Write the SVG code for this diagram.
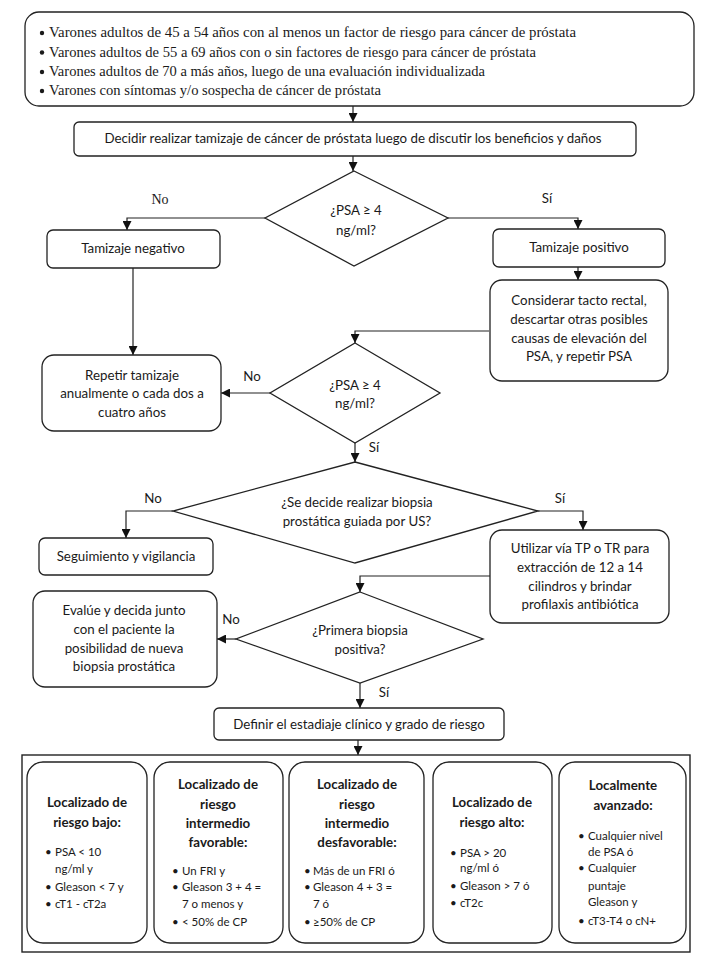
<svg xmlns="http://www.w3.org/2000/svg" width="709" height="968" viewBox="0 0 709 968">
<defs>
<marker id="arr" markerUnits="userSpaceOnUse" markerWidth="9" markerHeight="9" refX="9" refY="4.5" orient="auto">
<path d="M0,0 L9,4.5 L0,9 z" fill="#111"/>
</marker>
<style>
.box{fill:#fff;stroke:#222;stroke-width:1.3}
.t{font-family:Lato,"Liberation Sans",sans-serif;font-size:13.3px;fill:#1a1a1a;text-anchor:middle}
.s{font-family:"Liberation Serif","Times New Roman",serif;font-size:14px;fill:#1a1a1a}
.h{font-family:Lato,"Liberation Sans",sans-serif;font-size:13.3px;font-weight:bold;fill:#1a1a1a;text-anchor:middle}
.b{font-family:Lato,"Liberation Sans",sans-serif;font-size:11.5px;fill:#1a1a1a}
.c{fill:none;stroke:#222;stroke-width:1.2;marker-end:url(#arr)}
</style>
</defs>
<rect width="709" height="968" fill="#fff"/>

<g id="connectors">
<path class="c" d="M353,106 V122"/>
<path class="c" d="M353,156 V171"/>
<path class="c" d="M265,218 H127 V230"/>
<path class="c" d="M448,218 H578 V229"/>
<path class="c" d="M578,267 V280"/>
<path class="c" d="M133,268 V355"/>
<path class="c" d="M489,331 H355 V343"/>
<path class="c" d="M270,393 H221"/>
<path class="c" d="M355,443 V462"/>
<path class="c" d="M173,511 H126 V538"/>
<path class="c" d="M538,511 H583 V530"/>
<path class="c" d="M490,576 H360 V592"/>
<path class="c" d="M236,639 H217"/>
<path class="c" d="M360,683 V708"/>
<path class="c" d="M358,740 V755"/>
</g>

<g id="n-criteria">
<rect class="box" x="25" y="12" width="669" height="94" rx="14"/>
<circle cx="42" cy="33" r="2.2" fill="#1a1a1a"/>
<circle cx="42" cy="52.5" r="2.2" fill="#1a1a1a"/>
<circle cx="42" cy="72" r="2.2" fill="#1a1a1a"/>
<circle cx="42" cy="91" r="2.2" fill="#1a1a1a"/>
<text class="s" x="49" y="37" textLength="527" lengthAdjust="spacingAndGlyphs">Varones adultos de 45 a 54 años con al menos un factor de riesgo para cáncer de próstata</text>
<text class="s" x="49" y="56.5" textLength="487" lengthAdjust="spacingAndGlyphs">Varones adultos de 55 a 69 años con o sin factores de riesgo para cáncer de próstata</text>
<text class="s" x="49" y="76" textLength="436" lengthAdjust="spacingAndGlyphs">Varones adultos de 70 a más años, luego de una evaluación individualizada</text>
<text class="s" x="49" y="95" textLength="332" lengthAdjust="spacingAndGlyphs">Varones con síntomas y/o sospecha de cáncer de próstata</text>
</g>

<g id="n-decidir">
<rect class="box" x="74" y="122" width="562" height="34" rx="5"/>
<text class="t" x="353" y="143">Decidir realizar tamizaje de cáncer de próstata luego de discutir los beneficios y daños</text>
</g>

<g id="d-psa1">
<polygon class="box" points="354,171 448,218 354,266 265,218"/>
<text class="t" x="356" y="215">¿PSA ≥ 4</text>
<text class="t" x="356" y="235">ng/ml?</text>
<text class="s" x="160" y="204" text-anchor="middle">No</text>
<text class="t" x="547" y="203">Sí</text>
</g>

<g id="n-negativo">
<rect class="box" x="47" y="230" width="173" height="38" rx="6"/>
<text class="t" x="133" y="253">Tamizaje negativo</text>
</g>

<g id="n-positivo">
<rect class="box" x="493" y="229" width="172" height="38" rx="6"/>
<text class="t" x="579" y="252">Tamizaje positivo</text>
</g>

<g id="n-considerar">
<rect class="box" x="490" y="280" width="178" height="101" rx="12"/>
<text class="t" x="579" y="305">Considerar tacto rectal,</text>
<text class="t" x="579" y="324">descartar otras posibles</text>
<text class="t" x="579" y="343">causas de elevación del</text>
<text class="t" x="579" y="361">PSA, y repetir PSA</text>
</g>

<g id="d-psa2">
<polygon class="box" points="355,343 440,393 355,443 270,393"/>
<text class="t" x="355" y="390">¿PSA ≥ 4</text>
<text class="t" x="355" y="408">ng/ml?</text>
<text class="t" x="252" y="381">No</text>
<text class="t" x="374" y="452">Sí</text>
</g>

<g id="n-repetir">
<rect class="box" x="42" y="355" width="179" height="76" rx="12"/>
<text class="t" x="132" y="380">Repetir tamizaje</text>
<text class="t" x="132" y="398">anualmente o cada dos a</text>
<text class="t" x="132" y="417">cuatro años</text>
</g>

<g id="d-biopsia">
<polygon class="box" points="355,462 538,511 355,563 173,511"/>
<text class="t" x="357" y="507">¿Se decide realizar biopsia</text>
<text class="t" x="357" y="526">prostática guiada por US?</text>
<text class="t" x="153" y="503">No</text>
<text class="t" x="560" y="503">Sí</text>
</g>

<g id="n-seguimiento">
<rect class="box" x="39" y="538" width="174" height="37" rx="6"/>
<text class="t" x="126" y="561">Seguimiento y vigilancia</text>
</g>

<g id="n-utilizar">
<rect class="box" x="490" y="530" width="179" height="93" rx="12"/>
<text class="t" x="580" y="553">Utilizar vía TP o TR para</text>
<text class="t" x="580" y="572">extracción de 12 a 14</text>
<text class="t" x="580" y="591">cilindros y brindar</text>
<text class="t" x="580" y="609">profilaxis antibiótica</text>
</g>

<g id="d-primera">
<polygon class="box" points="360,592 483,639 360,683 236,639"/>
<text class="t" x="360" y="635">¿Primera biopsia</text>
<text class="t" x="360" y="654">positiva?</text>
<text class="t" x="231" y="624">No</text>
<text class="t" x="384" y="697">Sí</text>
</g>

<g id="n-evalue">
<rect class="box" x="33" y="591" width="184" height="96" rx="12"/>
<text class="t" x="124" y="615">Evalúe y decida junto</text>
<text class="t" x="124" y="634">con el paciente la</text>
<text class="t" x="124" y="653">posibilidad de nueva</text>
<text class="t" x="124" y="671">biopsia prostática</text>
</g>

<g id="n-definir">
<rect class="box" x="214" y="708" width="290" height="32" rx="5"/>
<text class="t" x="359" y="729">Definir el estadiaje clínico y grado de riesgo</text>
</g>

<g id="n-estadios">
<rect x="22" y="755" width="668" height="197" fill="#fff" stroke="#222" stroke-width="1.4"/>
</g>

<g id="n-bajo">
<rect class="box" x="27" y="762" width="120" height="181" rx="16"/>
<text class="h" x="87" y="807">Localizado de</text>
<text class="h" x="87" y="827">riesgo bajo:</text>
<g class="b">
<text x="45" y="856">•</text><text x="55" y="856">PSA &lt; 10</text>
<text x="55" y="873">ng/ml y</text>
<text x="45" y="891">•</text><text x="55" y="891">Gleason &lt; 7 y</text>
<text x="45" y="908">•</text><text x="55" y="908">cT1 - cT2a</text>
</g>
</g>

<g id="n-favorable">
<rect class="box" x="154" y="762" width="129" height="181" rx="16"/>
<text class="h" x="218" y="789">Localizado de</text>
<text class="h" x="218" y="809">riesgo</text>
<text class="h" x="218" y="828">intermedio</text>
<text class="h" x="218" y="847">favorable:</text>
<g class="b">
<text x="172" y="875">•</text><text x="182" y="875">Un FRI y</text>
<text x="172" y="891">•</text><text x="182" y="891">Gleason 3 + 4 =</text>
<text x="182" y="908">7 o menos y</text>
<text x="172" y="926">•</text><text x="182" y="926">&lt; 50% de CP</text>
</g>
</g>

<g id="n-desfavorable">
<rect class="box" x="289" y="762" width="135" height="181" rx="16"/>
<text class="h" x="357" y="789">Localizado de</text>
<text class="h" x="357" y="809">riesgo</text>
<text class="h" x="357" y="828">intermedio</text>
<text class="h" x="357" y="847">desfavorable:</text>
<g class="b">
<text x="304" y="875">•</text><text x="313" y="875">Más de un FRI ó</text>
<text x="304" y="891">•</text><text x="313" y="891">Gleason 4 + 3 =</text>
<text x="313" y="908">7 ó</text>
<text x="304" y="926">•</text><text x="313" y="926">≥50% de CP</text>
</g>
</g>

<g id="n-alto">
<rect class="box" x="433" y="762" width="119" height="181" rx="16"/>
<text class="h" x="492" y="807">Localizado de</text>
<text class="h" x="492" y="827">riesgo alto:</text>
<g class="b">
<text x="450" y="857">•</text><text x="460" y="857">PSA &gt; 20</text>
<text x="460" y="872">ng/ml ó</text>
<text x="450" y="890">•</text><text x="460" y="890">Gleason &gt; 7 ó</text>
<text x="450" y="907">•</text><text x="460" y="907">cT2c</text>
</g>
</g>

<g id="n-avanzado">
<rect class="box" x="559" y="762" width="127" height="181" rx="16"/>
<text class="h" x="623" y="790">Localmente</text>
<text class="h" x="623" y="810">avanzado:</text>
<g class="b">
<text x="578" y="840">•</text><text x="588" y="840">Cualquier nivel</text>
<text x="588" y="856">de PSA ó</text>
<text x="578" y="872">•</text><text x="588" y="872">Cualquier</text>
<text x="588" y="890">puntaje</text>
<text x="588" y="906">Gleason y</text>
<text x="578" y="925">•</text><text x="588" y="925">cT3-T4 o cN+</text>
</g>
</g>
</svg>
